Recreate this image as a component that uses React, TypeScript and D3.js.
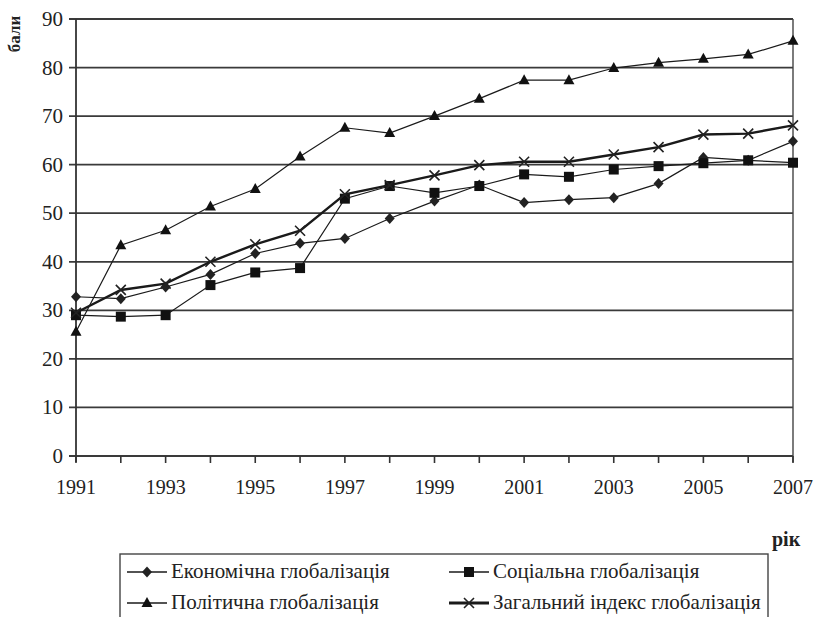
import React from 'react';
import * as d3 from 'd3';

// years on the x axis
const years = [1991, 1992, 1993, 1994, 1995, 1996, 1997, 1998, 1999, 2000, 2001, 2002, 2003, 2004, 2005, 2006, 2007];
const yearLabels = [1991, 1993, 1995, 1997, 1999, 2001, 2003, 2005, 2007];
const yTicks = [0, 10, 20, 30, 40, 50, 60, 70, 80, 90];

// series values
const economic = [32.8, 32.4, 34.8, 37.4, 41.7, 43.8, 44.8, 48.9, 52.5, 55.8, 52.2, 52.8, 53.2, 56.1, 61.5, 60.9, 64.8];
const social = [29.0, 28.7, 29.0, 35.2, 37.8, 38.7, 53.0, 55.6, 54.2, 55.6, 58.0, 57.5, 59.0, 59.7, 60.3, 60.9, 60.4];
const political = [25.6, 43.4, 46.5, 51.4, 55.0, 61.7, 67.6, 66.5, 70.0, 73.6, 77.4, 77.4, 79.9, 81.0, 81.8, 82.7, 85.5];
const overall = [29.5, 34.2, 35.5, 40.0, 43.6, 46.4, 53.9, 55.8, 57.8, 59.9, 60.6, 60.6, 62.1, 63.6, 66.2, 66.4, 68.1];

const seriesNames = ['Економічна глобалізація', 'Соціальна глобалізація', 'Політична глобалізація', 'Загальний індекс глобалізація'];

const Marker = ({ kind, x, y }) => {
    if (kind === 'diamond') {
        return <path d={`M${x},${y - 5.5}L${x + 5},${y}L${x},${y + 5.5}L${x - 5},${y}Z`} fill="#222" />;
    }
    if (kind === 'square') {
        return <rect x={x - 5} y={y - 5} width={10} height={10} fill="#111" />;
    }
    if (kind === 'triangle') {
        return <path d={`M${x},${y - 6}L${x + 5.5},${y + 4}L${x - 5.5},${y + 4}Z`} fill="#111" />;
    }
    return <path d={`M${x - 5},${y - 5}L${x + 5},${y + 5}M${x + 5},${y - 5}L${x - 5},${y + 5}`} stroke="#222" strokeWidth={1.6} />;
};

const App = () => {
    var left = 76, right = 793, top = 19, bottom = 456;

    var xScale = d3.scaleLinear().domain([1991, 2007]).range([left, right]);
    var yScale = d3.scaleLinear().domain([0, 90]).range([bottom, top]);

    var line = d3.line()
        .x((d, i) => xScale(years[i]))
        .y(d => yScale(d));

    var series = [
        { name: seriesNames[0], values: economic, kind: 'diamond', width: 1.2 },
        { name: seriesNames[1], values: social, kind: 'square', width: 1.2 },
        { name: seriesNames[2], values: political, kind: 'triangle', width: 1.2 },
        { name: seriesNames[3], values: overall, kind: 'cross', width: 2.4 },
    ];

    // legend layout: two columns, two rows
    var legendItems = [
        { s: series[0], x: 127, y: 572 },
        { s: series[1], x: 449, y: 572 },
        { s: series[2], x: 127, y: 603 },
        { s: series[3], x: 449, y: 603 },
    ];

    return (
        <svg width={814} height={617} className="chart" fontFamily="Liberation Serif" style={{ position: 'absolute', left: 0, top: 0, background: '#fff' }}>
            <style>{`.chart text { font-family: 'Liberation Serif', 'Times New Roman', serif; }`}</style>
            {/* grid lines */}
            {yTicks.map(t => (
                <g key={'g' + t}>
                    <line x1={left - 7} x2={right} y1={yScale(t)} y2={yScale(t)} stroke="#3a3a3a" strokeWidth={1.8} />
                    <text x={63} y={yScale(t) + 7} textAnchor="end" fontSize={21} fill="#222">{t}</text>
                </g>
            ))}
            {/* axes */}
            <line x1={left} x2={left} y1={top} y2={bottom + 6} stroke="#333" strokeWidth={1.8} />
            <line x1={right} x2={right} y1={top} y2={bottom + 6} stroke="#444" strokeWidth={1.4} />
            {years.map(yr => (
                <line key={'t' + yr} x1={xScale(yr)} x2={xScale(yr)} y1={bottom} y2={bottom + 7} stroke="#333" strokeWidth={1.6} />
            ))}
            {yearLabels.map(yr => (
                <text key={'l' + yr} x={xScale(yr)} y={494} textAnchor="middle" fontSize={20} fill="#222">{yr}</text>
            ))}

            {/* series */}
            {series.map(s => (
                <g key={s.name}>
                    <path d={line(s.values)} fill="none" stroke="#1a1a1a" strokeWidth={s.width} />
                    {s.values.map((v, i) => (
                        <Marker key={i} kind={s.kind} x={xScale(years[i])} y={yScale(v)} />
                    ))}
                </g>
            ))}

            {/* axis titles */}
            <text transform="translate(20,34) rotate(-90)" textAnchor="middle" fontSize={17} fontWeight="bold" fill="#222">бали</text>
            <text x={772} y={546} fontSize={20} fontWeight="bold" fill="#222">рік</text>

            {/* legend */}
            <rect x={120} y={554} width={648} height={80} fill="none" stroke="#444" strokeWidth={1.4} />
            {legendItems.map(item => (
                <g key={'lg' + item.s.name}>
                    <line x1={item.x} x2={item.x + 40} y1={item.y} y2={item.y} stroke="#1a1a1a" strokeWidth={item.s.width + 0.4} />
                    <Marker kind={item.s.kind} x={item.x + 20} y={item.y} />
                    <text x={item.x + 44} y={item.y + 6} fontSize={21} fill="#222">{item.s.name}</text>
                </g>
            ))}
        </svg>
    );
};

export default App;
